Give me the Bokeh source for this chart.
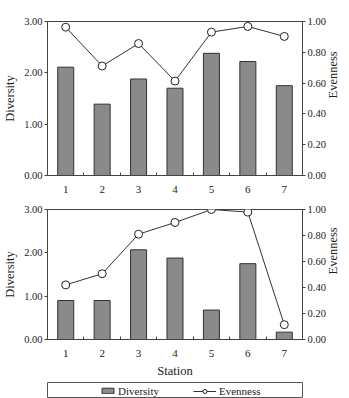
import math
from bokeh.plotting import figure
from bokeh.models import (Range1d, LinearAxis, FixedTicker, NumeralTickFormatter,
                          Legend, LegendItem, ColumnDataSource)
from bokeh.layouts import column
from bokeh.embed import file_html
from bokeh.resources import INLINE

stations = [1, 2, 3, 4, 5, 6, 7]
station_labels = ["1", "2", "3", "4", "5", "6", "7"]
diversity_top = [2.11, 1.39, 1.88, 1.70, 2.38, 2.22, 1.75]
evenness_top = [0.963, 0.711, 0.857, 0.613, 0.931, 0.968, 0.903]
diversity_bottom = [0.90, 0.90, 2.07, 1.88, 0.68, 1.75, 0.17]
evenness_bottom = [0.42, 0.506, 0.81, 0.90, 1.00, 0.98, 0.114]
div_ticks = [0, 1, 2, 3]
even_ticks = [0, 0.2, 0.4, 0.6, 0.8, 1.0]

FONT = "Liberation Serif"
TXT = "#222222"
BAR_FILL = "#8a8a8a"
BAR_LINE = "#333333"
AX = "#444444"


def style_axis(ax, fs="10.5px"):
    ax.major_label_text_font = FONT
    ax.major_label_text_font_size = fs
    ax.major_label_text_color = TXT
    ax.axis_label_text_font = FONT
    ax.axis_label_text_font_size = "12.5px"
    ax.axis_label_text_font_style = "normal"
    ax.axis_label_text_color = TXT
    ax.axis_line_color = AX
    ax.major_tick_line_color = AX
    ax.minor_tick_line_color = AX


def make_panel(div, even, height, top, bottom, xlabel=None):
    p = figure(width=349, height=height, output_backend="svg", toolbar_location=None,
               x_range=Range1d(0.5, 7.5), y_range=Range1d(0, 3),
               min_border_left=41, min_border_right=40,
               min_border_top=top, min_border_bottom=bottom)
    p.extra_y_ranges = {"e": Range1d(0, 1)}
    p.xgrid.visible = False
    p.ygrid.visible = False
    p.outline_line_color = AX
    p.outline_line_alpha = 1.0
    p.background_fill_color = "white"
    p.border_fill_color = "white"

    src = ColumnDataSource(dict(x=stations, d=div, e=even))
    p.vbar(x="x", top="d", width=0.44, source=src, fill_color=BAR_FILL,
           line_color=BAR_LINE, line_width=1)
    p.line(x="x", y="e", source=src, y_range_name="e", line_color="#333333", line_width=1)
    p.scatter(x="x", y="e", source=src, y_range_name="e", size=8, fill_color="white",
              line_color="#222222", line_width=1)

    xa = p.xaxis[0]
    xa.ticker = FixedTicker(ticks=stations, minor_ticks=[1.5, 2.5, 3.5, 4.5, 5.5, 6.5])
    xa.major_label_overrides = {s: l for s, l in zip(stations, station_labels)}
    xa.minor_tick_in = 3
    xa.minor_tick_out = 0
    xa.major_label_standoff = 4
    style_axis(xa, "11px")
    xa.major_tick_line_color = None
    if xlabel:
        xa.axis_label = xlabel
        xa.axis_label_standoff = 4

    ya = p.yaxis[0]
    ya.ticker = FixedTicker(ticks=div_ticks, minor_ticks=[])
    ya.formatter = NumeralTickFormatter(format="0.00")
    ya.axis_label = "Diversity"
    ya.major_tick_in = 0
    ya.major_tick_out = 3
    ya.major_label_standoff = 2
    ya.axis_label_standoff = 4
    style_axis(ya)

    ra = LinearAxis(y_range_name="e", ticker=FixedTicker(ticks=even_ticks, minor_ticks=[]),
                    formatter=NumeralTickFormatter(format="0.00"), axis_label="Evenness")
    ra.major_tick_in = 0
    ra.major_tick_out = 3
    ra.major_label_standoff = 2
    ra.axis_label_standoff = 4
    ra.axis_label_orientation = math.pi / 2
    style_axis(ra)
    p.add_layout(ra, "right")
    return p


p1 = make_panel(diversity_top, evenness_top, 197, 21, 22)
p2 = make_panel(diversity_bottom, evenness_bottom, 183, 12, 39, xlabel="Station")

p3 = figure(width=349, height=18, output_backend="svg", toolbar_location=None,
            x_axis_location=None, y_axis_location=None,
            x_range=Range1d(0, 1), y_range=Range1d(0, 1),
            min_border_left=41, min_border_right=40, min_border_top=2, min_border_bottom=0)
p3.xgrid.visible = False
p3.ygrid.visible = False
p3.outline_line_color = "#555555"

rb = p3.vbar(x=[-10], top=[-10], width=0.5, fill_color=BAR_FILL, line_color=BAR_LINE)
rl = p3.line(x=[-10, -9], y=[-10, -10], line_color="#333333", line_width=1)
rs = p3.scatter(x=[-10], y=[-10], size=8, fill_color="white", line_color="#222222")

for items, loc, gw, gh in [([LegendItem(label="Diversity", renderers=[rb])], (53, 1), 15, 7),
                           ([LegendItem(label="Evenness", renderers=[rl, rs])], (146, 1), 23, 10)]:
    lg = Legend(items=items, location=loc, orientation="horizontal",
                glyph_width=gw, glyph_height=gh, label_standoff=3,
                padding=0, margin=0, spacing=0, border_line_color=None,
                background_fill_alpha=0, label_text_font=FONT,
                label_text_font_size="11px", label_text_color=TXT,
                label_height=13)
    p3.add_layout(lg, "center")

layout = column(p1, p2, p3, spacing=0)
open("out.html", "w").write(file_html(layout, INLINE))
